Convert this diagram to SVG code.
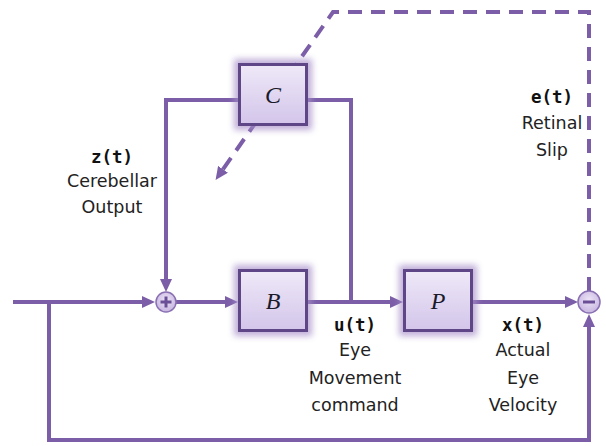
<svg xmlns="http://www.w3.org/2000/svg" width="606" height="446" viewBox="0 0 606 446">
<defs>
<linearGradient id="boxfill" x1="0" y1="0" x2="0" y2="1">
<stop offset="0" stop-color="#efe9f8"/>
<stop offset="1" stop-color="#d3c5ea"/>
</linearGradient>
<radialGradient id="circfill" cx="0.5" cy="0.4" r="0.6">
<stop offset="0" stop-color="#ece4f6"/>
<stop offset="1" stop-color="#c7b5e0"/>
</radialGradient>
<filter id="glow" x="-30%" y="-30%" width="160%" height="160%">
<feGaussianBlur stdDeviation="3"/>
</filter>
<marker id="arr" markerUnits="userSpaceOnUse" markerWidth="14" markerHeight="12" refX="7" refY="6" orient="auto">
<path d="M0,0 L13,6 L0,12 z" fill="#7b5ea7"/>
</marker>
</defs>
<style>
.ln{fill:none;stroke:#7b5ea7;stroke-width:4}
.dash{fill:none;stroke:#7b5ea7;stroke-width:4;stroke-dasharray:14 9}
.box{fill:url(#boxfill);stroke:#5e4687;stroke-width:3}
.halo{fill:#a58dc9;opacity:0.7}
.sym{font-family:"Liberation Serif","Times New Roman",serif;font-style:italic;font-size:24px;fill:#1a1a2a;text-anchor:middle}
.lbl{font-family:"DejaVu Sans",Verdana,sans-serif;font-size:17.5px;fill:#222;text-anchor:middle}
.lb{font-family:"DejaVu Sans Mono","DejaVu Sans",monospace;font-weight:bold;font-size:17.5px;fill:#111;text-anchor:middle}
.circ{fill:url(#circfill);stroke:#8a70b3;stroke-width:1.5}
.sgn{stroke:#6a4f96;stroke-width:3}
</style>

<g id="connectors">
<path class="ln" d="M13,302 H149" marker-end="url(#arr)"/>
<path class="ln" d="M176,302 H232" marker-end="url(#arr)"/>
<path class="ln" d="M308,302 H397" marker-end="url(#arr)"/>
<path class="ln" d="M472,302 H572" marker-end="url(#arr)"/>
<path class="ln" d="M49,302 V440 H589 V320" marker-end="url(#arr)"/>
<path class="ln" d="M238,100 H166 V286" marker-end="url(#arr)"/>
<path class="ln" d="M308,100 H351 V302"/>
<path class="dash" d="M589,291 V12 H333 L219,175" marker-end="url(#arr)"/>
</g>

<g id="node-C">
<rect class="halo" x="234" y="59" width="78" height="71" filter="url(#glow)"/>
<rect class="box" x="239.5" y="64.5" width="67" height="60"/>
<text class="sym" x="273" y="103">C</text>
</g>

<g id="node-B">
<rect class="halo" x="234" y="265" width="78" height="71" filter="url(#glow)"/>
<rect class="box" x="239.5" y="270.5" width="67" height="60"/>
<text class="sym" x="273" y="309">B</text>
</g>

<g id="node-P">
<rect class="halo" x="399" y="265" width="78" height="71" filter="url(#glow)"/>
<rect class="box" x="404.5" y="270.5" width="67" height="60"/>
<text class="sym" x="438" y="309">P</text>
</g>

<g id="node-sum">
<circle class="circ" cx="166" cy="302" r="10"/>
<path class="sgn" d="M160.5,302 H171.5 M166,296.5 V307.5"/>
</g>

<g id="node-diff">
<circle class="circ" cx="589" cy="302" r="11"/>
<path class="sgn" d="M583,302 H595"/>
</g>

<g id="labels">
<text class="lb" x="112" y="163">z(t)</text>
<text class="lbl" x="112" y="187">Cerebellar</text>
<text class="lbl" x="112" y="213">Output</text>

<text class="lb" x="552" y="103">e(t)</text>
<text class="lbl" x="552" y="129">Retinal</text>
<text class="lbl" x="552" y="156">Slip</text>

<text class="lb" x="355" y="331">u(t)</text>
<text class="lbl" x="355" y="356">Eye</text>
<text class="lbl" x="355" y="384">Movement</text>
<text class="lbl" x="355" y="411">command</text>

<text class="lb" x="523" y="331">x(t)</text>
<text class="lbl" x="523" y="356">Actual</text>
<text class="lbl" x="523" y="384">Eye</text>
<text class="lbl" x="523" y="411">Velocity</text>
</g>
</svg>
